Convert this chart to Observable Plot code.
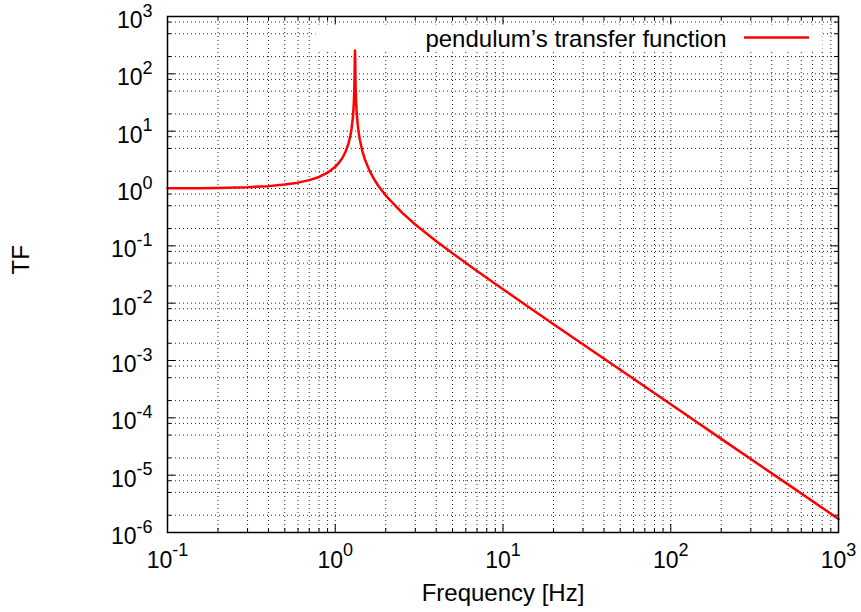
<!DOCTYPE html>
<html><head><meta charset="utf-8">
<script src="https://cdn.jsdelivr.net/npm/d3@7"></script>
<script src="https://cdn.jsdelivr.net/npm/@observablehq/plot@0.6"></script>
<style>
html,body{margin:0;padding:0;background:#fff;}
#chart svg{display:block;}
</style>
</head><body><div id="chart"></div>
<script>
// Curve values
const frequency = [0.1, 0.15, 0.2, 0.3, 0.4, 0.5, 0.6, 0.7, 0.8, 0.9, 1.0, 1.05, 1.1, 1.15, 1.2, 1.23, 1.25, 1.27, 1.28, 1.29, 1.295, 1.3, 1.305, 1.308, 1.3115, 1.315, 1.318, 1.322, 1.33, 1.34, 1.36, 1.38, 1.4, 1.45, 1.5, 1.6, 1.7, 1.8, 2.0, 2.5, 3, 4, 5, 7, 10, 20, 50, 100, 200, 500, 1000];
const tf = [1.006, 1.013, 1.024, 1.055, 1.10, 1.17, 1.265, 1.40, 1.59, 1.89, 2.39, 2.79, 3.37, 4.33, 6.14, 8.3, 10.9, 16.1, 21.1, 30.8, 40, 57, 101, 189, 255, 187, 101, 62, 35.2, 22.8, 13.3, 9.33, 7.17, 4.50, 3.25, 2.05, 1.47, 1.13, 0.754, 0.38, 0.236, 0.12, 0.074, 0.0364, 0.0175, 0.0043, 6.9e-4, 1.72e-4, 4.3e-5, 6.9e-6, 1.72e-6];

const xMajorTicks = [0.1, 1, 10, 100, 1000];
const xMajorLabels = ["10^-1", "10^0", "10^1", "10^2", "10^3"];
const xMinorTicks = [0.2,0.3,0.4,0.5,0.6,0.7,0.8,0.9, 2,3,4,5,6,7,8,9, 20,30,40,50,60,70,80,90, 200,300,400,500,600,700,800,900];
const yMajorTicks = [1e-6, 1e-5, 1e-4, 1e-3, 1e-2, 1e-1, 1, 10, 100, 1000];
const yMajorLabels = ["10^-6", "10^-5", "10^-4", "10^-3", "10^-2", "10^-1", "10^0", "10^1", "10^2", "10^3"];
const yMinorTicks = [2e-6,5e-6,8e-6, 2e-5,5e-5,8e-5, 2e-4,5e-4,8e-4, 2e-3,5e-3,8e-3, 2e-2,5e-2,8e-2, 0.2,0.5,0.8, 2,5,8, 20,50,80, 200,500,800];

const seriesName = "pendulum\u2019s transfer function";
const xTitle = "Frequency [Hz]";
const yTitle = "TF";

const data = frequency.map((f, i) => ({f, tf: tf[i]}));
const xLab = xMajorTicks.map((v, i) => ({v, label: xMajorLabels[i]}));
const yLab = yMajorTicks.map((v, i) => ({v, label: yMajorLabels[i]}));
const xAll = xMajorTicks.concat(xMinorTicks);
const yAll = yMajorTicks.concat(yMinorTicks);

const gridStyle = {stroke: "#000", strokeWidth: 1, strokeDasharray: "1,3", strokeOpacity: 0.85};
const FW = 861 - 167 - 23, FH = 612 - 16 - 80;

const chart = Plot.plot({
  width: 861, height: 612,
  marginLeft: 167, marginRight: 23, marginTop: 16, marginBottom: 80,
  x: {type: "log", domain: [0.1, 1000], axis: null},
  y: {type: "log", domain: [1e-6, 1e3], axis: null},
  style: {fontFamily: "'Liberation Sans', Arial, sans-serif", fontSize: "24px", color: "#000", background: "#fff"},
  marks: [
    Plot.ruleX(xAll, {x: d => d, ...gridStyle}),
    Plot.ruleY(yAll, {y: d => d, ...gridStyle}),
    Plot.frame({fill: "white", stroke: null, insetLeft: 148, insetRight: 16, insetTop: 8, insetBottom: 483}),
    Plot.tickX(xMajorTicks, {x: d => d, insetTop: FH - 8, stroke: "#000"}),
    Plot.tickX(xMajorTicks, {x: d => d, insetBottom: FH - 8, stroke: "#000"}),
    Plot.tickX(xMinorTicks, {x: d => d, insetTop: FH - 4, stroke: "#000"}),
    Plot.tickX(xMinorTicks, {x: d => d, insetBottom: FH - 4, stroke: "#000"}),
    Plot.tickY(yMajorTicks, {y: d => d, insetRight: FW - 8, stroke: "#000"}),
    Plot.tickY(yMajorTicks, {y: d => d, insetLeft: FW - 8, stroke: "#000"}),
    Plot.tickY(yMinorTicks, {y: d => d, insetRight: FW - 4, stroke: "#000"}),
    Plot.tickY(yMinorTicks, {y: d => d, insetLeft: FW - 4, stroke: "#000"}),
    Plot.line(data, {x: "f", y: "tf", stroke: "#ff0000", strokeWidth: 2.5}),
    Plot.frame({stroke: "#000", strokeWidth: 1.5}),
    Plot.text(xLab, {x: "v", text: "label", frameAnchor: "bottom", dy: 35, lineAnchor: "bottom", fontSize: 23}),
    Plot.text(yLab, {y: "v", text: "label", frameAnchor: "left", dx: -15, dy: 11.5, textAnchor: "end", lineAnchor: "bottom", fontSize: 23}),
    Plot.text([xTitle], {text: d => d, frameAnchor: "bottom", dy: 68, lineAnchor: "bottom"}),
    Plot.text([yTitle], {text: d => d, frameAnchor: "left", dx: -146, rotate: -90}),
    Plot.text([seriesName], {text: d => d, frameAnchor: "top-right", dx: -112, dy: 30, textAnchor: "end", lineAnchor: "bottom"}),
    Plot.ruleY([1e3], {y: d => d, dy: 21, insetLeft: 577, insetRight: 29, stroke: "#ff0000", strokeWidth: 2.5})
  ]
});

// Typeset "10^n" labels with real superscripts
d3.select(chart).selectAll("text").each(function() {
  const m = /^10\^(-?\d+)$/.exec(this.textContent);
  if (!m) return;
  const sel = d3.select(this);
  sel.text(null);
  sel.append("tspan").text("10");
  sel.append("tspan").attr("dy", -11.5).attr("font-size", "18px").text(m[1]);
});

document.getElementById("chart").appendChild(chart);
</script>
</body></html>
